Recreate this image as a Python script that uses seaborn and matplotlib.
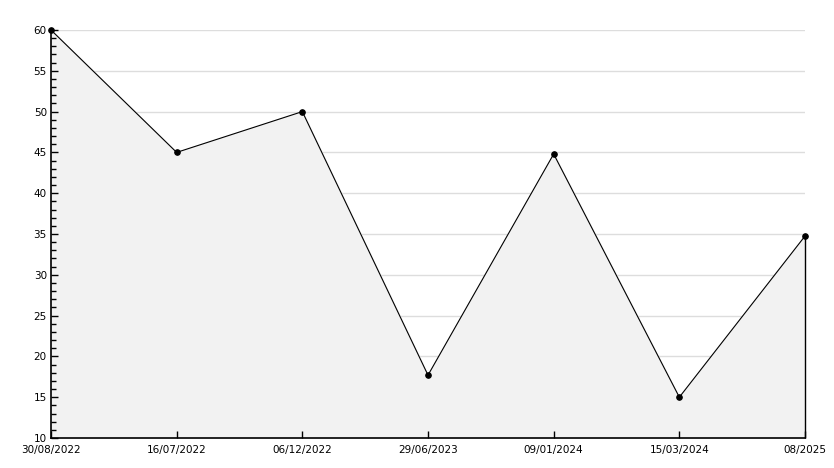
import seaborn as sns
import pandas as pd
import matplotlib.pyplot as plt
from matplotlib.ticker import MultipleLocator
from matplotlib.transforms import ScaledTranslation

# values
date_labels = ['30/08/2022', '16/07/2022', '06/12/2022', '29/06/2023',
               '09/01/2024', '15/03/2024', '08/2025']
values = [60, 45, 50, 17.7, 44.8, 15, 34.75]

df = pd.DataFrame({'pos': range(len(date_labels)), 'value': values})

sns.set_style("white")
plt.rcParams['font.family'] = ['DejaVu Sans']

fig = plt.figure(figsize=(8.34, 4.68), dpi=100)
ax = fig.add_axes([51/834, 1 - 438/468, (805 - 51)/834, (438 - 30)/468])
ax.set_axisbelow(False)  # ticks must sit on top of the fill

# grid first, fill covers it below the line
for y in range(15, 61, 5):
    ax.axhline(y, color='#dddddd', lw=1, zorder=0)

ax.fill_between(df['pos'], df['value'], 10, color='#f2f2f2', zorder=1)
sns.lineplot(data=df, x='pos', y='value', ax=ax, color='black', lw=0.8,
             marker='o', markersize=4, markeredgecolor='black', zorder=3,
             clip_on=False)
# closing edge on the right
ax.vlines(df['pos'].iloc[-1], 10, df['value'].iloc[-1], color='black', lw=1,
          zorder=3, clip_on=False)

ax.set_xlim(0, len(date_labels) - 1)
ax.set_ylim(10, 60)
ax.set_xticks(df['pos'])
ax.set_xticklabels(date_labels)
ax.yaxis.set_major_locator(MultipleLocator(5))
ax.yaxis.set_minor_locator(MultipleLocator(1))
ax.set_xlabel('')
ax.set_ylabel('')

ax.tick_params(axis='both', which='major', direction='in', length=5, width=1,
               labelsize=7.5, colors='black', pad=3, left=True, bottom=True)
ax.tick_params(axis='y', which='minor', direction='in', length=3.5, width=1,
               left=True, color='black')
ax.tick_params(axis='x', which='major', pad=5)

# lift the bottom y label a little so it clears the first date
lbl = ax.get_yticklabels()[0]
lbl.set_transform(lbl.get_transform() + ScaledTranslation(0, 3/100, fig.dpi_scale_trans))

for side in ['top', 'right']:
    ax.spines[side].set_visible(False)
for side in ['left', 'bottom']:
    ax.spines[side].set_color('black')
    ax.spines[side].set_linewidth(1.2)
ax.set_facecolor('white')

fig.savefig('out.png', dpi=100)
